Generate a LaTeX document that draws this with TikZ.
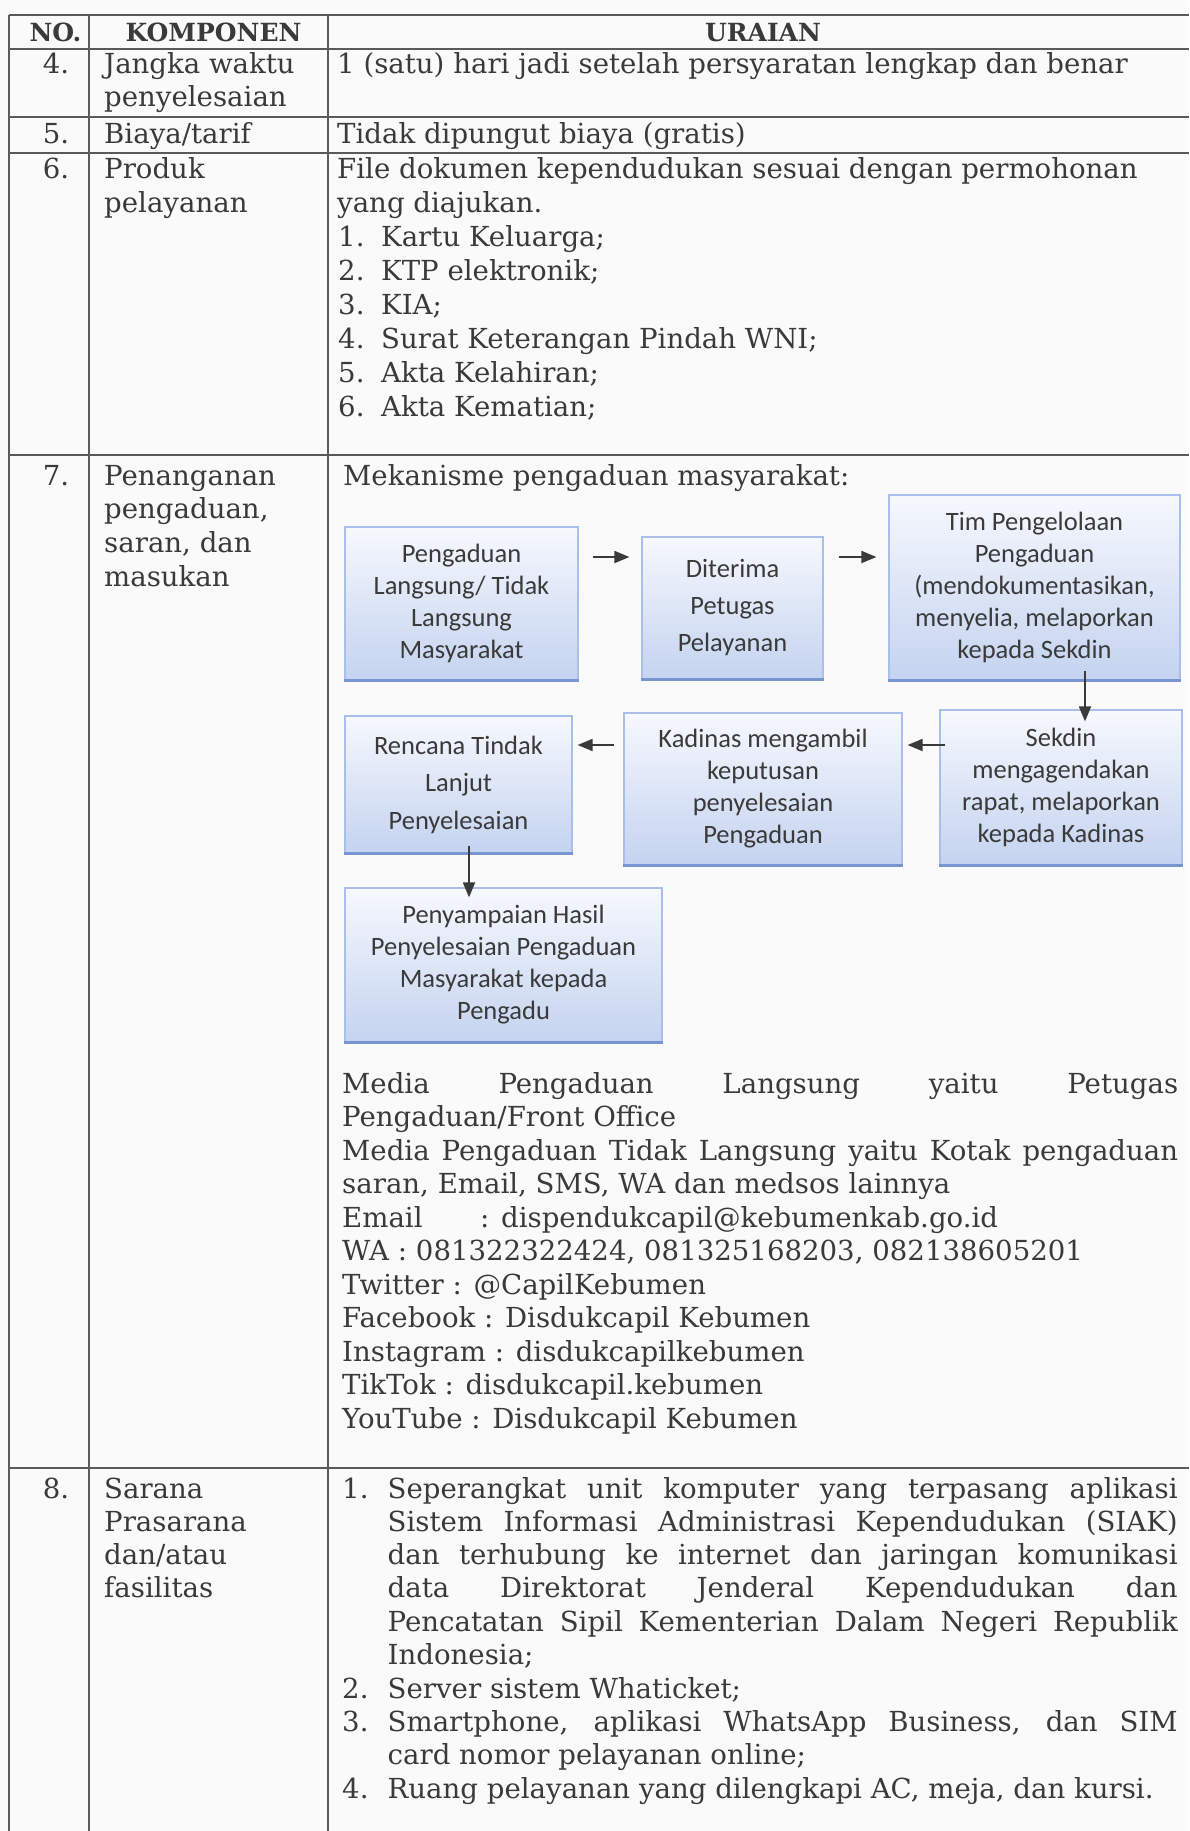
\documentclass[tikz,border=0pt]{standalone}
\usepackage{fontspec}
\setmainfont{DejaVu Serif}
\newfontfamily\boxfont{Carlito}
\usetikzlibrary{calc,arrows.meta}
\definecolor{paper}{HTML}{FAFAFA}
\definecolor{ink}{HTML}{3A3A3A}
\definecolor{rulegray}{HTML}{5A5A5A}
\definecolor{boxtop}{HTML}{F6F8FD}
\definecolor{boxbot}{HTML}{C4D3F0}
\definecolor{boxline}{HTML}{A9BEE8}
\definecolor{boxshade}{HTML}{7895D2}
\def\jline#1#2{\makebox[#1pt][s]{#2}}
\tikzset{
  rule/.style={draw=rulegray, line width=1.6pt},
  head/.style={anchor=base, inner sep=0pt, text=ink, font=\bfseries\fontsize{25}{30}\selectfont},
  cell/.style={anchor=base west, inner sep=0pt, text=ink, font=\fontsize{27.6}{30}\selectfont},
  num/.style={anchor=base, inner sep=0pt, text=ink, font=\fontsize{27.6}{30}\selectfont},
  flowbox/.style={draw=boxline, line width=1.2pt, top color=boxtop, bottom color=boxbot,
    align=center, inner sep=0pt, text=ink, font=\boxfont\fontsize{26.5}{32}\selectfont},
  boxfoot/.style={draw=boxshade, line width=3pt},
  arr/.style={draw=ink, line width=1.8pt, -{Triangle[length=15pt,width=12pt]}}
}
\begin{document}
\begin{tikzpicture}[x=1pt,y=-1pt]
		%%%%% PAGE %%%%%
		\fill[paper] (0,0) rectangle (1189,1831);
		\useasboundingbox (0,0) rectangle (1189,1831);
		
		%%%%% TABLE %%%%%
		\foreach \y in {15,49,117,153,455,1468}
			\draw[rule] (9,\y) -- (1189,\y);
		\foreach \x in {9,89,328}
			\draw[rule] (\x,15) -- (\x,1831);
		
		\node[head] (hno) at (55.5,41) {NO.};
		\node[head] (hkomp) at (213.5,41) {KOMPONEN};
		\node[head] (hurai) at (763,41) {URAIAN};
		
		%%%%% ROW 4, 5 %%%%%
		\node[num] (no4) at (56,73) {4.};
		\node[cell] (kom4a) at (104,73) {Jangka waktu};
		\node[cell] (kom4b) at (104,106.5) {penyelesaian};
		\node[cell] (ura4) at (337,73) {1 (satu) hari jadi setelah persyaratan lengkap dan benar};
		
		\node[num] (no5) at (56,143) {5.};
		\node[cell] (kom5) at (104,143) {Biaya/tarif};
		\node[cell] (ura5) at (337,143) {Tidak dipungut biaya (gratis)};
		
		%%%%% ROW 6 %%%%%
		\node[num] (no6) at (56,178) {6.};
		\node[cell] (kom6a) at (104,178) {Produk};
		\node[cell] (kom6b) at (104,212) {pelayanan};
		\node[cell] (ura6a) at (337,178) {File dokumen kependudukan sesuai dengan permohonan};
		\node[cell] (ura6b) at (337,212) {yang diajukan.};
		\foreach \t [count=\i] in {Kartu Keluarga;, KTP elektronik;, KIA;, Surat Keterangan Pindah WNI;, Akta Kelahiran;, Akta Kematian;}
			\node[cell] (prod\i) at (338,212+34*\i) {\makebox[43pt][l]{\i.}\t};
		
		%%%%% ROW 7 %%%%%
		\node[num] (no7) at (56,485) {7.};
		\foreach \t [count=\i from 0] in {Penanganan, {pengaduan,}, {saran, dan}, masukan}
			\node[cell] (kom7-\i) at (104,485+33.7*\i) {\t};
		\node[cell] (mek) at (343,485) {Mekanisme pengaduan masyarakat:};
		
		\node[flowbox, minimum width=233pt, minimum height=153pt] (pgd) at (461.5,603.5) {Pengaduan\\Langsung/ Tidak\\Langsung\\Masyarakat};
		\node[flowbox, minimum width=181pt, minimum height=142pt, font=\boxfont\fontsize{26.5}{37}\selectfont] (dtp) at (732.5,608) {Diterima\\Petugas\\Pelayanan};
		\node[flowbox, minimum width=291pt, minimum height=185pt] (tim) at (1034.5,587.5) {Tim Pengelolaan\\Pengaduan\\(mendokumentasikan,\\menyelia, melaporkan\\kepada Sekdin};
		\node[flowbox, minimum width=242pt, minimum height=155pt] (skd) at (1061,787.5) {Sekdin\\mengagendakan\\rapat, melaporkan\\kepada Kadinas};
		\node[flowbox, minimum width=278pt, minimum height=152pt] (kdn) at (763,789) {Kadinas mengambil\\keputusan\\penyelesaian\\Pengaduan};
		\node[flowbox, minimum width=227pt, minimum height=137pt, font=\boxfont\fontsize{26.5}{37.5}\selectfont] (rtl) at (458.5,784.5) {Rencana Tindak\\Lanjut\\Penyelesaian};
		\node[flowbox, minimum width=317pt, minimum height=154pt] (phs) at (503.5,965) {Penyampaian Hasil\\Penyelesaian Pengaduan\\Masyarakat kepada\\Pengadu};
		\foreach \b in {pgd,dtp,tim,skd,kdn,rtl,phs}
			\draw[boxfoot] (\b.south west) -- (\b.south east);
		
		\coordinate (lvl1) at (0,557);
		\coordinate (lvl2) at (0,745);
		\coordinate (colC) at (1085,0);
		\coordinate (colF) at (469,0);
		\draw[arr, shorten <=14pt, shorten >=12pt] (pgd.east |- lvl1) -- (dtp.west |- lvl1);
		\draw[arr, shorten <=15pt, shorten >=12pt] (dtp.east |- lvl1) -- (tim.west |- lvl1);
		\draw[arr, shorten <=-10pt, shorten >=-12pt] (tim.south -| colC) -- (skd.north -| colC);
		\draw[arr, shorten <=-6pt, shorten >=5pt] (skd.west |- lvl2) -- (kdn.east |- lvl2);
		\draw[arr, shorten <=9pt, shorten >=5pt] (kdn.west |- lvl2) -- (rtl.east |- lvl2);
		\draw[arr, shorten <=-8pt, shorten >=-10pt] (rtl.south -| colF) -- (phs.north -| colF);
		
		\node[cell] (med1) at (342,1093) {\jline{836}{Media Pengaduan Langsung yaitu Petugas}};
		\node[cell] (med2) at (342,1126.5) {Pengaduan/Front Office};
		\node[cell] (med3) at (342,1160) {\jline{836}{Media Pengaduan Tidak Langsung yaitu Kotak pengaduan}};
		\node[cell] (med4) at (342,1193.5) {saran, Email, SMS, WA dan medsos lainnya};
		\node[cell] (med5) at (342,1227) {\makebox[138pt][l]{Email}: dispendukcapil@kebumenkab.go.id};
		\foreach \t [count=\i] in {{WA : 081322322424, 081325168203, 082138605201}, Twitter : @CapilKebumen, Facebook : Disdukcapil Kebumen, Instagram : disdukcapilkebumen, TikTok : disdukcapil.kebumen, YouTube : Disdukcapil Kebumen}
			\node[cell] (sos\i) at (342,1227+33.5*\i) {\t};
		
		%%%%% ROW 8 %%%%%
		\node[num] (no8) at (56,1498) {8.};
		\foreach \t [count=\i from 0] in {Sarana, Prasarana, dan/atau, fasilitas}
			\node[cell] (kom8-\i) at (104,1498+33.3*\i) {\t};
		\node[cell] (fas1) at (342,1498) {\makebox[45.5pt][l]{1.}\jline{790}{Seperangkat unit komputer yang terpasang aplikasi}};
		\foreach \t [count=\i] in {Sistem Informasi Administrasi Kependudukan (SIAK), dan terhubung ke internet dan jaringan komunikasi, data Direktorat Jenderal Kependudukan dan, Pencatatan Sipil Kementerian Dalam Negeri Republik}
			\node[cell] (fas1-\i) at (387.5,1498+33.3*\i) {\jline{790}{\t}};
		\node[cell] (fas1-5) at (387.5,1664.5) {Indonesia;};
		\node[cell] (fas2) at (342,1698) {\makebox[45.5pt][l]{2.}Server sistem Whaticket;};
		\node[cell] (fas3) at (342,1731) {\makebox[45.5pt][l]{3.}\jline{790}{Smartphone, aplikasi WhatsApp Business, dan SIM}};
		\node[cell] (fas3-1) at (387.5,1764.5) {card nomor pelayanan online;};
		\node[cell] (fas4) at (342,1798) {\makebox[45.5pt][l]{4.}Ruang pelayanan yang dilengkapi AC, meja, dan kursi.};
		
		%%%%% END %%%%%
	\end{tikzpicture}
\end{document}
